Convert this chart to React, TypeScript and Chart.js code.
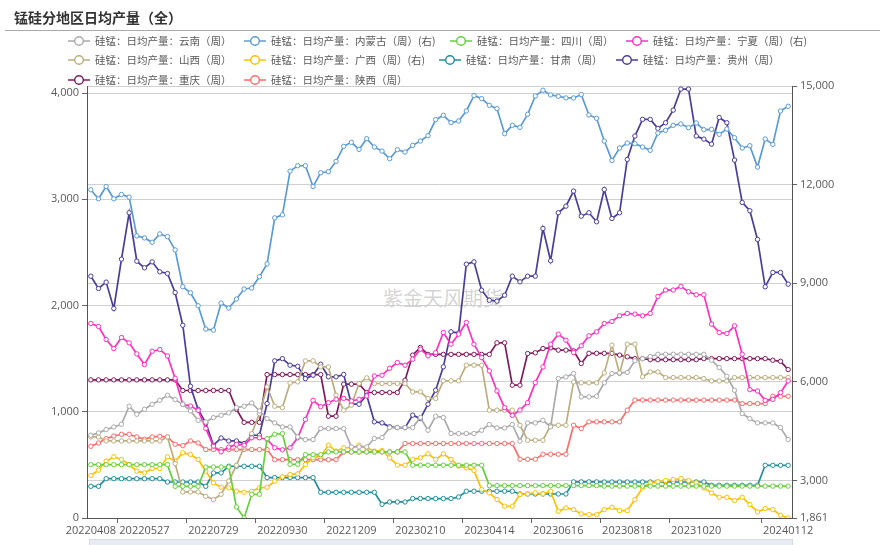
import React, { useEffect, useRef } from 'react';
import { Chart, registerables } from 'chart.js';

Chart.register(...registerables);

// ---------- categories (weekly, 20221007 missing) ----------
const dates = [
  '20220408', '20220415', '20220422', '20220429', '20220506', '20220513', '20220520', '20220527', '20220603', '20220610',
  '20220617', '20220624', '20220701', '20220708', '20220715', '20220722', '20220729', '20220805', '20220812', '20220819',
  '20220826', '20220902', '20220909', '20220916', '20220923', '20220930', '20221014', '20221021', '20221028', '20221104',
  '20221111', '20221118', '20221125', '20221202', '20221209', '20221216', '20221223', '20221230', '20230106', '20230113',
  '20230120', '20230127', '20230203', '20230210', '20230217', '20230224', '20230303', '20230310', '20230317', '20230324',
  '20230331', '20230407', '20230414', '20230421', '20230428', '20230505', '20230512', '20230519', '20230526', '20230602',
  '20230609', '20230616', '20230623', '20230630', '20230707', '20230714', '20230721', '20230728', '20230804', '20230811',
  '20230818', '20230825', '20230901', '20230908', '20230915', '20230922', '20230929', '20231006', '20231013', '20231020',
  '20231027', '20231103', '20231110', '20231117', '20231124', '20231201', '20231208', '20231215', '20231222', '20231229',
  '20240105', '20240112',
];

// tick labels shown on the x axis (indices into dates) and tick-mark positions
const xLabelIdx = [0, 7, 16, 25, 34, 43, 52, 61, 70, 79, 91];
const xTickMarkPos = [3.5, 12.5, 21.5, 30.5, 39.5, 48.5, 57.5, 66.5, 75.5, 87.5];
const leftTicks = [0, 1000, 2000, 3000, 4000];
const rightTicks = [1861, 3000, 6000, 9000, 12000, 15000];

const names = [
  '硅锰：日均产量：云南（周）',
  '硅锰：日均产量：内蒙古（周）(右)',
  '硅锰：日均产量：四川（周）',
  '硅锰：日均产量：宁夏（周）(右)',
  '硅锰：日均产量：山西（周）',
  '硅锰：日均产量：广西（周）(右)',
  '硅锰：日均产量：甘肃（周）',
  '硅锰：日均产量：贵州（周）',
  '硅锰：日均产量：重庆（周）',
  '硅锰：日均产量：陕西（周）',
];

// ---------- series values ----------
const yunnan = [
  779, 801, 832, 857, 882, 1052, 976, 1023, 1070, 1108,
  1155, 1114, 1070, 1008, 920, 904, 945, 967, 989, 1039,
  1052, 1083, 1008, 935, 895, 857, 857, 763, 738, 738,
  842, 842, 842, 842, 669, 669, 669, 748, 757, 851,
  851, 851, 851, 946, 826, 958, 946, 795, 795, 795,
  795, 826, 880, 848, 848, 880, 723, 895, 895, 920,
  858, 1313, 1328, 1360, 1140, 1140, 1146, 1272, 1360, 1366,
  1370, 1480, 1500, 1520, 1541, 1541, 1541, 1541, 1541, 1541,
  1541, 1485, 1416, 1334, 1202, 983, 935, 895, 895, 895,
  851, 738,
];
const neimenggu = [
  11844, 11569, 11944, 11569, 11700, 11618, 10441, 10380, 10246, 10502,
  10420, 10014, 8895, 8712, 8316, 7605, 7575, 8398, 8246, 8520,
  8825, 8855, 9200, 9587, 10990, 11081, 12411, 12575, 12575, 11944,
  12362, 12392, 12706, 13164, 13286, 13072, 13398, 13143, 13021, 12788,
  13062, 12991, 13194, 13326, 13489, 13977, 14109, 13885, 13936, 14241,
  14709, 14617, 14414, 14312, 13550, 13804, 13743, 14139, 14698, 14871,
  14729, 14688, 14637, 14637, 14739, 14119, 14017, 13326, 12737, 13113,
  13265, 13245, 13143, 13042, 13570, 13652, 13804, 13845, 13733, 13875,
  13672, 13682, 13530, 13692, 13428, 13113, 13184, 12534, 13387, 13225,
  14241, 14383,
];
const sichuan = [
  502, 502, 502, 502, 502, 502, 502, 502, 502, 502,
  502, 298, 298, 298, 298, 480, 480, 480, 480, 104,
  0, 223, 223, 747, 788, 794, 505, 505, 596, 596,
  596, 622, 622, 622, 622, 622, 622, 622, 622, 622,
  622, 622, 497, 497, 497, 497, 497, 497, 497, 497,
  497, 497, 305, 305, 305, 305, 305, 305, 305, 305,
  305, 305, 305, 305, 305, 305, 305, 300, 300, 300,
  300, 300, 300, 300, 300, 300, 300, 300, 300, 300,
  300, 300, 300, 300, 300, 300, 300, 300, 300, 300,
  300, 300,
];
const ningxia = [
  7777, 7686, 7289, 7015, 7350, 7188, 6852, 6527, 6933, 6984,
  6791, 6110, 5318, 5267, 5135, 4586, 4047, 3874, 4017, 4098,
  4077, 4301, 4301, 4250, 3996, 3935, 3996, 4301, 4860, 5440,
  5246, 5369, 5471, 5500, 5420, 5471, 5572, 6182, 6202, 6416,
  6589, 6507, 6690, 6995, 6792, 6893, 7503, 7147, 7452, 7808,
  7147, 6741, 6334, 5725, 5217, 4983, 5145, 5369, 5979, 6456,
  7147, 7452, 7269, 6893, 7097, 7402, 7524, 7777, 7838, 8011,
  8082, 8062, 8011, 8082, 8600, 8794, 8794, 8906, 8743, 8651,
  8651, 7757, 7503, 7472, 7706, 6842, 5765, 5724, 5440, 5470,
  5673, 6029,
];
const shanxi = [
  763, 763, 725, 725, 725, 725, 725, 725, 725, 725,
  763, 512, 245, 245, 245, 204, 173, 223, 348, 496,
  669, 794, 983, 1234, 1052, 1039, 1271, 1281, 1479, 1479,
  1422, 1422, 1156, 1015, 1062, 1266, 1319, 1266, 1266, 1266,
  1266, 1266, 1187, 1187, 1125, 1125, 1291, 1291, 1291, 1438,
  1438, 1438, 1015, 1015, 1015, 1015, 873, 732, 732, 732,
  873, 873, 873, 1281, 1272, 1272, 1272, 1366, 1627, 1360,
  1636, 1636, 1329, 1375, 1375, 1322, 1322, 1322, 1322, 1322,
  1312, 1290, 1290, 1290, 1322, 1322, 1322, 1322, 1322, 1322,
  1322, 1322,
];
const guangxi = [
  3153, 3316, 3590, 3722, 3641, 3488, 3285, 3234, 3366, 3366,
  3722, 3590, 3844, 3793, 3641, 3285, 2929, 2797, 2777, 2675,
  2645, 2675, 2777, 2797, 2980, 3112, 3183, 3204, 3488, 3692,
  3742, 4078, 3895, 3997, 3997, 4078, 3997, 3895, 3916, 3692,
  3468, 3468, 3641, 3692, 3814, 3641, 3814, 3641, 3438, 3387,
  3306, 2727, 2625, 2422, 2219, 2219, 2574, 2595, 2625, 2594,
  2675, 2066, 2167, 2117, 1985, 1964, 1964, 2116, 2187, 2086,
  2086, 2421, 2777, 2929, 2960, 3000, 3031, 3061, 3000, 2929,
  2777, 2624, 2492, 2492, 2391, 2492, 2269, 2045, 2147, 2116,
  1944, 1861,
];
const gansu = [
  298, 298, 370, 370, 370, 370, 370, 370, 370, 370,
  339, 339, 339, 339, 339, 298, 424, 424, 487, 487,
  487, 487, 487, 380, 380, 380, 380, 380, 380, 380,
  242, 242, 242, 242, 242, 242, 242, 242, 129, 151,
  151, 151, 183, 183, 183, 183, 183, 183, 198, 252,
  252, 252, 252, 252, 252, 252, 226, 226, 226, 226,
  226, 226, 226, 340, 340, 340, 340, 339, 339, 339,
  339, 339, 339, 339, 339, 339, 339, 339, 339, 339,
  339, 308, 308, 308, 308, 308, 308, 308, 496, 496,
  496, 496,
];
const guizhou = [
  2276, 2160, 2220, 1972, 2436, 2873, 2417, 2355, 2411, 2317,
  2301, 2122, 1814, 1240, 1023, 895, 684, 753, 725, 725,
  700, 779, 779, 1077, 1479, 1500, 1438, 1428, 1312, 1344,
  1447, 1329, 1329, 1351, 1071, 1071, 1156, 905, 895, 858,
  851, 851, 968, 936, 1071, 1203, 1423, 1752, 1742, 2389,
  2411, 2144, 2050, 2041, 2097, 2276, 2223, 2276, 2276, 2725,
  2421, 2873, 2935, 3077, 2841, 2873, 2788, 3092, 2819, 2873,
  3375, 3595, 3752, 3752, 3667, 3720, 3839, 4037, 4037, 3595,
  3566, 3519, 3770, 3720, 3369, 2970, 2892, 2622, 2176, 2311,
  2311, 2201,
];
const chongqing = [
  1300, 1300, 1300, 1300, 1300, 1300, 1300, 1300, 1300, 1300,
  1300, 1300, 1200, 1200, 1200, 1200, 1200, 1200, 1200, 1025,
  900, 900, 900, 1350, 1350, 1350, 1350, 1350, 1350, 1350,
  1350, 958, 958, 1260, 1260, 1260, 1181, 1181, 1181, 1181,
  1181, 1297, 1533, 1605, 1540, 1540, 1540, 1540, 1540, 1540,
  1540, 1540, 1540, 1649, 1649, 1250, 1250, 1548, 1555, 1595,
  1602, 1580, 1580, 1573, 1454, 1550, 1550, 1550, 1550, 1533,
  1517, 1500, 1500, 1490, 1490, 1490, 1490, 1490, 1490, 1490,
  1500, 1500, 1500, 1500, 1500, 1500, 1500, 1500, 1500, 1485,
  1475, 1397,
];
const shaanxi = [
  675, 706, 747, 772, 788, 788, 763, 741, 763, 769,
  763, 694, 681, 725, 706, 644, 644, 644, 644, 644,
  644, 644, 644, 644, 549, 549, 549, 549, 549, 549,
  549, 549, 549, 622, 622, 622, 622, 622, 622, 622,
  622, 701, 701, 701, 701, 701, 701, 701, 701, 701,
  701, 701, 701, 701, 701, 701, 553, 553, 553, 600,
  600, 600, 600, 873, 842, 905, 905, 905, 905, 905,
  1015, 1110, 1110, 1110, 1110, 1110, 1110, 1110, 1110, 1110,
  1110, 1110, 1110, 1110, 1110, 1077, 1077, 1077, 1077, 1146,
  1146, 1146,
];

// ---------- styling ----------
const seriesList = [
  { name: names[0], data: yunnan, color: '#aaaaaa', axis: 'y' },
  { name: names[1], data: neimenggu, color: '#5b9bd5', axis: 'y1' },
  { name: names[2], data: sichuan, color: '#66d13a', axis: 'y' },
  { name: names[3], data: ningxia, color: '#ff2fbf', axis: 'y1' },
  { name: names[4], data: shanxi, color: '#bcae7e', axis: 'y' },
  { name: names[5], data: guangxi, color: '#ffc000', axis: 'y1' },
  { name: names[6], data: gansu, color: '#1f8f99', axis: 'y' },
  { name: names[7], data: guizhou, color: '#4b3d9a', axis: 'y' },
  { name: names[8], data: chongqing, color: '#801a5e', axis: 'y' },
  { name: names[9], data: shaanxi, color: '#ff6b6b', axis: 'y' },
];

const legendPos = [
  { left: 68, row: 0 }, { left: 244, row: 0 }, { left: 450, row: 0 }, { left: 626, row: 0 },
  { left: 68, row: 1 }, { left: 244, row: 1 }, { left: 439, row: 1 }, { left: 616, row: 1 },
  { left: 68, row: 2 }, { left: 244, row: 2 },
];
const rowCenters = [40.5, 60, 80];

const tickFont = { family: '"Open Sans", "Noto Sans", sans-serif', size: 11 };
const fmt = (v: number) => Number(v).toLocaleString('en-US');

export default function App() {
  const ref = useRef<HTMLCanvasElement | null>(null);

  useEffect(() => {
    if (!ref.current) return;
    const chart = new Chart(ref.current, {
      type: 'line',
      data: {
        datasets: seriesList.map((s) => ({
          label: s.name,
          data: s.data.map((v, i) => ({ x: i, y: v })),
          yAxisID: s.axis,
          borderColor: s.color,
          backgroundColor: '#ffffff',
          pointBackgroundColor: '#ffffff',
          pointBorderColor: s.color,
          pointRadius: 2.2,
          pointBorderWidth: 1,
          borderWidth: 1.7,
          tension: 0,
        })),
      },
      options: {
        responsive: false,
        devicePixelRatio: 1,
        animation: false,
        layout: { padding: { top: 86, left: 0, right: 0, bottom: 0 } },
        plugins: {
          legend: { display: false },
          title: { display: false },
          tooltip: { enabled: true },
        },
        scales: {
          x: {
            type: 'linear',
            min: -0.5,
            max: 91.5,
            afterBuildTicks: (s: any) => {
              s.ticks = [...xLabelIdx, ...xTickMarkPos].sort((a, b) => a - b).map((v) => ({ value: v }));
            },
            afterFit: (s: any) => {
              s.height = 27;
            },
            ticks: {
              autoSkip: false,
              maxRotation: 0,
              minRotation: 0,
              padding: 1,
              color: '#595959',
              font: tickFont,
              callback: (v: any) => (xLabelIdx.includes(v) ? dates[v] : ''),
            },
            grid: {
              drawOnChartArea: false,
              tickLength: 5,
              tickColor: (ctx: any) =>
                ctx.tick && xTickMarkPos.includes(ctx.tick.value) ? '#666666' : 'rgba(0,0,0,0)',
            },
            border: { color: '#555555', width: 1 },
          },
          y: {
            position: 'left',
            min: 0,
            max: 4066,
            afterBuildTicks: (s: any) => {
              s.ticks = leftTicks.map((v) => ({ value: v }));
            },
            afterFit: (s: any) => {
              s.width = 87;
            },
            ticks: { color: '#595959', font: tickFont, padding: 3, callback: (v: any) => fmt(v) },
            grid: { color: '#d0d0d0', tickLength: 5, tickColor: '#666666' },
            border: { color: '#555555', width: 1 },
          },
          y1: {
            position: 'right',
            min: 1861,
            max: 15000,
            afterBuildTicks: (s: any) => {
              s.ticks = rightTicks.map((v) => ({ value: v }));
            },
            afterFit: (s: any) => {
              s.width = 96;
            },
            ticks: { color: '#595959', font: tickFont, padding: 3, callback: (v: any) => fmt(v) },
            grid: { color: '#d0d0d0', tickLength: 5, tickColor: '#666666' },
            border: { color: '#555555', width: 1 },
          },
        },
      } as any,
    });
    return () => chart.destroy();
  }, []);

  return (
    <div
      style={{
        position: 'fixed',
        left: 0,
        top: 0,
        width: 888,
        height: 545,
        background: '#ffffff',
        overflow: 'hidden',
        fontFamily: '"Noto Sans CJK SC", "Noto Sans", sans-serif',
      }}
    >
      <div
        style={{
          position: 'absolute',
          left: 383,
          top: 284,
          fontSize: 20,
          color: 'rgba(160,160,160,0.45)',
          whiteSpace: 'nowrap',
          lineHeight: '28px',
        }}
      >
        紫金天风期货
      </div>
      <canvas
        ref={ref}
        width={888}
        height={545}
        style={{ position: 'absolute', left: 0, top: 0, width: 888, height: 545 }}
      />
      <div
        style={{
          position: 'absolute',
          left: 14,
          top: 7,
          fontSize: 14,
          fontWeight: 700,
          color: '#333333',
          lineHeight: '20px',
          whiteSpace: 'nowrap',
        }}
      >
        锰硅分地区日均产量（全）
      </div>
      <div style={{ position: 'absolute', left: 5, top: 30, width: 875, height: 1, background: '#aaaaaa' }} />
      {seriesList.map((s, i) => {
        const p = legendPos[i];
        return (
          <div
            key={s.name}
            style={{
              position: 'absolute',
              left: p.left,
              top: rowCenters[p.row] - 8,
              height: 16,
              display: 'flex',
              alignItems: 'center',
              whiteSpace: 'nowrap',
            }}
          >
            <svg width={22} height={12} style={{ display: 'block' }}>
              <line x1={0} y1={6} x2={22} y2={6} stroke={s.color} strokeWidth={1.5} />
              <circle cx={11} cy={6} r={4.3} fill="#ffffff" stroke={s.color} strokeWidth={1.4} />
            </svg>
            <span style={{ marginLeft: 5, fontSize: 10.5, color: '#595959', lineHeight: '16px' }}>{s.name}</span>
          </div>
        );
      })}
      <div
        style={{
          position: 'absolute',
          left: 89,
          top: 539,
          width: 704,
          height: 10,
          background: '#e8edf3',
          border: '1px solid #d3dbe6',
          boxSizing: 'border-box',
        }}
      />
    </div>
  );
}
